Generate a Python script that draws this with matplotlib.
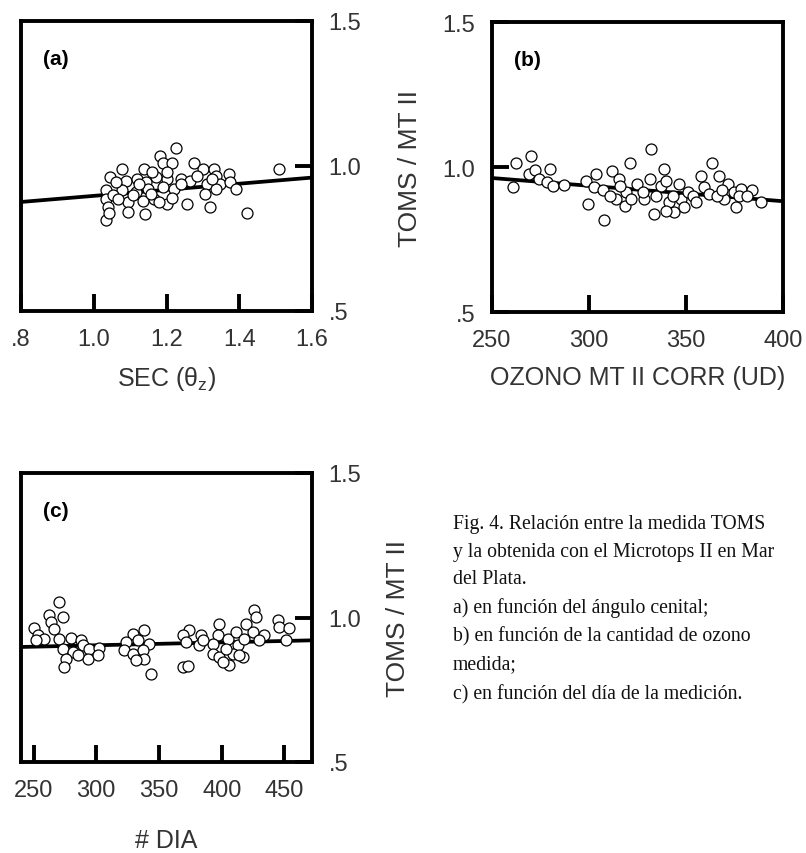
import matplotlib
matplotlib.use('Agg')
import matplotlib.pyplot as plt

plt.rcParams['font.family'] = ['Liberation Sans', 'DejaVu Sans']
plt.rcParams['mathtext.default'] = 'regular'

# (a) TOMS / MT II frente a sec(theta_z)
sec_a = [1.227, 1.182, 1.19, 1.216, 1.276, 1.30, 1.33, 1.337, 1.372, 1.51,
         1.079, 1.138, 1.046, 1.09, 1.118, 1.143, 1.172, 1.2, 1.24, 1.264,
         1.31, 1.346, 1.374, 1.39, 1.035, 1.077, 1.116, 1.15, 1.19, 1.22,
         1.305, 1.337, 1.033, 1.054, 1.094, 1.135, 1.167, 1.2, 1.216, 1.257,
         1.32, 1.42, 1.039, 1.094, 1.142, 1.035, 1.042, 1.066, 1.107, 1.158,
         1.179, 1.062, 1.125, 1.16, 1.2, 1.24, 1.285, 1.326]
ratio_a = [1.061, 1.034, 1.011, 1.011, 1.011, 0.99, 0.99, 0.967, 0.972, 0.988,
           0.988, 0.988, 0.962, 0.95, 0.956, 0.944, 0.962, 0.956, 0.956, 0.95,
           0.939, 0.939, 0.944, 0.922, 0.916, 0.916, 0.91, 0.922, 0.927, 0.922,
           0.905, 0.922, 0.887, 0.899, 0.876, 0.881, 0.887, 0.870, 0.889, 0.870,
           0.858, 0.839, 0.858, 0.841, 0.835, 0.814, 0.839, 0.887, 0.899, 0.905,
           0.876, 0.944, 0.939, 0.979, 0.979, 0.939, 0.967, 0.956]
fit_a_x = [0.8, 1.6]
fit_a_y = [0.876, 0.960]

# (b) frente a ozono MT II corregido (UD)
oz_b = [262.5, 260.6, 270, 269.3, 272.2, 274.4, 279.9, 278.2, 281.6, 287,
        332, 321.2, 363.3, 298.7, 303.8, 302.5, 307.2, 299.5, 307.7, 312,
        315.4, 314, 318.9, 318.3, 324.7, 328.6, 331.2, 333.7, 338.8, 337.1,
        339.7, 341.4, 344, 346.5, 347.4, 349.1, 350.8, 353.4, 357.6, 355,
        359.4, 362, 367, 369.6, 371.8, 374.7, 375.6, 378.1, 377.3, 384.1,
        388.9, 381.6, 366.2, 343.1, 334.6, 327.7, 321.8, 310.7, 315.8, 339.7,
        368.7]
ratio_b = [1.014, 0.930, 1.037, 0.976, 0.991, 0.959, 0.993, 0.95, 0.936, 0.938,
           1.062, 1.013, 1.014, 0.953, 0.976, 0.930, 0.919, 0.873, 0.818, 0.987,
           0.959, 0.89, 0.913, 0.867, 0.942, 0.89, 0.959, 0.838, 0.993, 0.936,
           0.953, 0.878, 0.844, 0.942, 0.89, 0.861, 0.913, 0.901, 0.97, 0.878,
           0.93, 0.907, 0.97, 0.89, 0.942, 0.913, 0.861, 0.924, 0.901, 0.922,
           0.881, 0.901, 0.901, 0.901, 0.901, 0.913, 0.89, 0.901, 0.936, 0.85,
           0.919]
fit_b_x = [250, 400]
fit_b_y = [0.962, 0.882]

# (c) frente al dia de la medicion
dia_c = [270.5, 262.5, 273.7, 263.9, 250.6, 266.5, 253.2, 258.5, 251.9, 270.5,
         279.8, 287.8, 273.2, 281.1, 275.8, 274.5, 289.1, 294.4, 293.1, 302.4,
         301.1, 285.1, 329, 338.3, 323.7, 333, 342.3, 322.4, 329, 337,
         338.3, 331.7, 343.6, 374.2, 368.9, 383.5, 371.5, 382.2, 368.9, 372.9,
         398.1, 396.8, 392.8, 392.8, 398.1, 406.1, 404.8, 411.4, 412.8, 408.8,
         416.8, 419.5, 426.1, 427.4, 424.7, 434, 418.1, 430, 444.6, 446,
         454, 451.3, 403.5, 400.8, 384.8, 414.1]
ratio_c = [1.054, 1.010, 1.002, 0.984, 0.964, 0.961, 0.941, 0.927, 0.921, 0.927,
           0.929, 0.921, 0.892, 0.881, 0.858, 0.829, 0.904, 0.892, 0.858, 0.894,
           0.869, 0.869, 0.944, 0.956, 0.915, 0.921, 0.909, 0.886, 0.875, 0.886,
           0.858, 0.852, 0.806, 0.956, 0.938, 0.938, 0.915, 0.904, 0.829, 0.832,
           0.979, 0.938, 0.909, 0.875, 0.863, 0.834, 0.927, 0.950, 0.904, 0.875,
           0.863, 0.979, 1.025, 1.002, 0.950, 0.938, 0.927, 0.921, 0.990, 0.967,
           0.964, 0.921, 0.892, 0.846, 0.921, 0.869]
fit_c_x = [240, 472]
fit_c_y = [0.898, 0.921]

y_ticks = [0.5, 1.0, 1.5]
y_labels = ['.5', '1.0', '1.5']

caption = ["Fig. 4. Relación entre la medida TOMS",
           "y la obtenida con el Microtops II en Mar",
           "del Plata.",
           "a) en función del ángulo cenital;",
           "b) en función de la cantidad de ozono",
           "medida;",
           "c) en función del día de la medición."]

W, H = 806, 854
fig = plt.figure(figsize=(W / 100, H / 100), dpi=100)
txt = '#333333'


def px_axes(l, t, r, b):
    return fig.add_axes([l / W, 1 - b / H, (r - l) / W, (b - t) / H])


def panel(ax, x, y, fx, fy, xlim, xticks, xlabels, tag, yside):
    ax.plot(fx, fy, color='black', lw=2.7, solid_capstyle='butt', zorder=2)
    ax.plot(x, y, 'o', ms=7.9, mfc='white', mec='black', mew=0.9, zorder=3)
    ax.set_xlim(xlim)
    ax.set_ylim(0.5, 1.5)
    ax.set_xticks(xticks)
    ax.set_xticklabels(xlabels)
    ax.set_yticks(y_ticks)
    ax.set_yticklabels(y_labels)
    for s in ax.spines.values():
        s.set_linewidth(2.8)
    ax.tick_params(direction='in', length=12.5, width=2.8, labelsize=17,
                   labelcolor=txt, pad=12)
    if yside == 'right':
        ax.tick_params(axis='y', left=False, right=True,
                       labelleft=False, labelright=True)
        ax.yaxis.set_label_position('right')
    ax.text(0.075, 0.87, tag, transform=ax.transAxes, fontsize=15,
            fontweight='bold', ha='left', va='center')


ax_a = px_axes(21, 22, 312, 312)
panel(ax_a, sec_a, ratio_a, fit_a_x, fit_a_y, (0.8, 1.6),
      [0.8, 1.0, 1.2, 1.4, 1.6], ['.8', '1.0', '1.2', '1.4', '1.6'], '(a)', 'right')
ax_a.set_xlabel('SEC (θ$_{z}$)', fontsize=18, color=txt, labelpad=10)

ax_b = px_axes(492, 23, 783, 313)
panel(ax_b, oz_b, ratio_b, fit_b_x, fit_b_y, (250, 400),
      [250, 300, 350, 400], ['250', '300', '350', '400'], '(b)', 'left')
ax_b.set_xlabel('OZONO MT II CORR (UD)', fontsize=18, color=txt, labelpad=10)
ax_b.set_ylabel('TOMS / MT II', fontsize=19, color=txt, labelpad=15)

ax_c = px_axes(21, 474, 312, 763)
panel(ax_c, dia_c, ratio_c, fit_c_x, fit_c_y, (240, 472),
      [250, 300, 350, 400, 450], ['250', '300', '350', '400', '450'], '(c)', 'right')
ax_c.set_xlabel('# DIA', fontsize=18, color=txt, labelpad=20)
ax_c.set_ylabel('TOMS / MT II', fontsize=19, color=txt, labelpad=18)

cap_y = [525, 553, 580, 608, 637, 665, 695]
for line, yy in zip(caption, cap_y):
    fig.text(453 / W, 1 - yy / H, line, family='Liberation Serif', fontsize=14.2,
             ha='left', va='center', color='#111111')

fig.savefig('out.png', dpi=100)
